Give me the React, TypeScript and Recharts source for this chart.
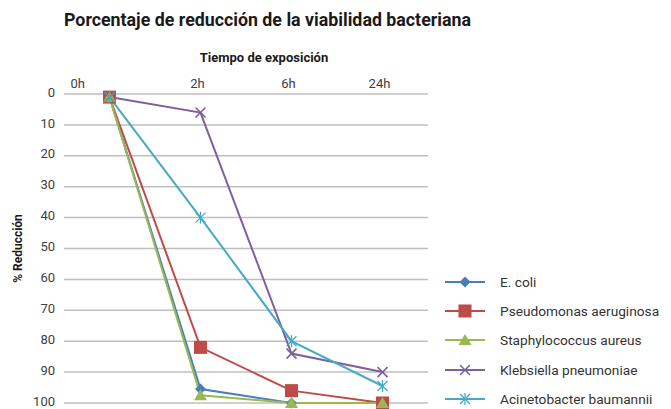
import React from "react";
import { LineChart, Line, XAxis, YAxis, CartesianGrid, Legend } from "recharts";

const categories = ["0h", "2h", "6h", "24h"];
const seriesNames = [
  "E. coli",
  "Pseudomonas aeruginosa",
  "Staphylococcus aureus",
  "Klebsiella pneumoniae",
  "Acinetobacter baumannii",
];
const eColi = [1, 95.5, 100, 100];
const pseudomonas = [1, 82, 96, 100];
const staphylococcus = [1, 97.5, 100, 100];
const klebsiella = [1, 6, 84, 90];
const acinetobacter = [1, 40, 80, 94.5];
const yTicks = [0, 10, 20, 30, 40, 50, 60, 70, 80, 90, 100];

const seriesValues = [eColi, pseudomonas, staphylococcus, klebsiella, acinetobacter];
const seriesColors = ["#4a7ebb", "#be4b48", "#98b954", "#7d60a0", "#46aac5"];
const seriesShapes = ["diamond", "square", "triangle", "x", "star"];

const data = categories.map((cat, i) => {
  const row: any = { idx: i, cat };
  seriesValues.forEach((vals, s) => {
    row["s" + s] = vals[i];
  });
  return row;
});

const FONT = "'Liberation Sans Narrow', 'Roboto', sans-serif";
const TICK_FONT = "Roboto, sans-serif";

function Marker({ cx, cy, shape, color }: any) {
  if (cx == null || cy == null) return <g />;
  switch (shape) {
    case "diamond":
      return (
        <polygon
          points={`${cx},${cy - 5.5} ${cx + 5.5},${cy} ${cx},${cy + 5.5} ${cx - 5.5},${cy}`}
          fill={color}
        />
      );
    case "square":
      return <rect x={cx - 6.5} y={cy - 6.5} width={13} height={13} fill={color} />;
    case "triangle":
      return (
        <polygon
          points={`${cx},${cy - 6} ${cx + 6.5},${cy + 5} ${cx - 6.5},${cy + 5}`}
          fill={color}
        />
      );
    case "x":
      return (
        <g stroke={color} strokeWidth={1.6}>
          <line x1={cx - 5} y1={cy - 5} x2={cx + 5} y2={cy + 5} />
          <line x1={cx - 5} y1={cy + 5} x2={cx + 5} y2={cy - 5} />
        </g>
      );
    case "star":
      return (
        <g stroke={color} strokeWidth={1.3}>
          <line x1={cx - 5} y1={cy - 5} x2={cx + 5} y2={cy + 5} />
          <line x1={cx - 5} y1={cy + 5} x2={cx + 5} y2={cy - 5} />
          <line x1={cx} y1={cy - 6} x2={cx} y2={cy + 6} />
        </g>
      );
    default:
      return <g />;
  }
}

function TopTick(props: any) {
  const { x, y, payload, index } = props;
  const label = categories[payload.value];
  const isFirst = index === 0;
  return (
    <text
      x={isFirst ? x - 39 : x - 3}
      y={y}
      textAnchor={isFirst ? "start" : "middle"}
      fill="#404040"
      fontSize={13}
      fontFamily={TICK_FONT}
    >
      {label}
    </text>
  );
}

function LegendContent() {
  return (
    <div style={{ display: "flex", flexDirection: "column" }}>
      {seriesNames.map((name, s) => (
        <div key={name} style={{ display: "flex", alignItems: "center", height: 29.3 }}>
          <svg width={40} height={16} style={{ display: "block" }}>
            <line x1={0} y1={8} x2={40} y2={8} stroke={seriesColors[s]} strokeWidth={2} />
            <Marker cx={20} cy={8} shape={seriesShapes[s]} color={seriesColors[s]} />
          </svg>
          <span
            style={{
              marginLeft: 15,
              fontFamily: TICK_FONT,
              fontSize: 13.7,
              color: "#333333",
              whiteSpace: "nowrap",
            }}
          >
            {name}
          </span>
        </div>
      ))}
    </div>
  );
}

export default function App() {
  return (
    <div
      style={{
        position: "absolute",
        left: 0,
        top: 0,
        width: 671,
        height: 409,
        background: "#ffffff",
        overflow: "hidden",
      }}
    >
      <div
        style={{
          position: "absolute",
          left: 64,
          top: 9,
          fontFamily: FONT,
          fontWeight: 700,
          fontSize: 17.8,
          color: "#1a1a1a",
          whiteSpace: "nowrap",
        }}
      >
        Porcentaje de reducción de la viabilidad bacteriana
      </div>
      <div
        style={{
          position: "absolute",
          left: 0,
          width: 528,
          top: 50,
          textAlign: "center",
          fontFamily: FONT,
          fontWeight: 700,
          fontSize: 13,
          color: "#1a1a1a",
          whiteSpace: "nowrap",
        }}
      >
        Tiempo de exposición
      </div>
      <LineChart
        width={671}
        height={409}
        data={data}
        margin={{ top: 74, right: 243, bottom: 6, left: 0 }}
      >
        <CartesianGrid vertical={false} stroke="#bfbfbf" strokeWidth={1.5} />
        <XAxis
          xAxisId="marks"
          type="number"
          dataKey="idx"
          orientation="top"
          domain={[-0.5, 3.5]}
          ticks={[-0.5, 0.5, 1.5, 2.5, 3.5]}
          tickFormatter={() => ""}
          height={0}
          tickSize={4}
          stroke="#bfbfbf"
          axisLine={{ stroke: "#bfbfbf", strokeWidth: 1.5 }}
          tickLine={{ stroke: "#bfbfbf", strokeWidth: 1 }}
        />
        <XAxis
          xAxisId="labels"
          type="number"
          dataKey="idx"
          orientation="top"
          domain={[-0.5, 3.5]}
          ticks={[0, 1, 2, 3]}
          height={20}
          tickSize={4}
          tickLine={false}
          axisLine={false}
          tick={<TopTick />}
          interval={0}
        />
        <YAxis
          reversed
          type="number"
          domain={[0, 100]}
          ticks={yTicks}
          width={64}
          tickSize={7}
          tickLine={false}
          axisLine={false}
          interval={0}
          tick={{ fill: "#404040", fontSize: 13, fontFamily: TICK_FONT, dy: -2 }}
          label={{
            value: "% Reducción",
            angle: -90,
            position: "center",
            dx: -14,
            style: { fontFamily: FONT, fontWeight: 700, fontSize: 12, fill: "#1a1a1a" },
          }}
        />
        <Legend
          layout="vertical"
          align="center"
          verticalAlign="middle"
          wrapperStyle={{ left: 445, top: 267, width: 226 }}
          content={<LegendContent />}
        />
        {seriesNames.map((name, s) => (
          <Line
            key={name}
            xAxisId="marks"
            type="linear"
            dataKey={"s" + s}
            name={name}
            stroke={seriesColors[s]}
            strokeWidth={2}
            isAnimationActive={false}
            dot={(p: any) => (
              <Marker
                key={name + "-" + p.index}
                cx={p.cx}
                cy={p.cy}
                shape={seriesShapes[s]}
                color={seriesColors[s]}
              />
            )}
            activeDot={false}
          />
        ))}
      </LineChart>
    </div>
  );
}
